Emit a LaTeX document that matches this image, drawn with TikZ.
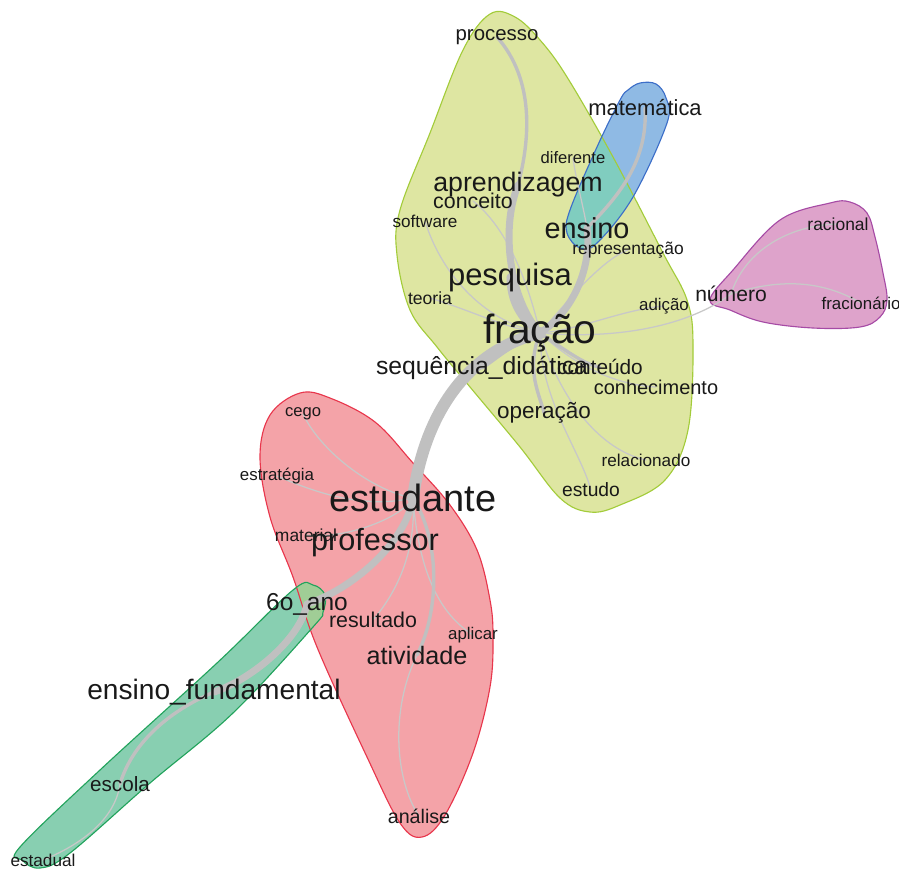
\documentclass[tikz,border=0pt]{standalone}
\usepackage{fontspec}
\setmainfont{Liberation Sans}
\pgfdeclarelayer{hull}
\pgfdeclarelayer{edge}
\pgfsetlayers{hull,edge,main}
\definecolor{yfill}{HTML}{DEE6A2}
\definecolor{yline}{HTML}{A3CC3A}
\definecolor{bfill}{HTML}{8FBAE4}
\definecolor{bline}{HTML}{3C6EC8}
\definecolor{ybfill}{HTML}{80CDBF}
\definecolor{mfill}{HTML}{DEA3CB}
\definecolor{mline}{HTML}{A64BA5}
\definecolor{rfill}{HTML}{F4A3A8}
\definecolor{rline}{HTML}{E8364C}
\definecolor{gfill}{HTML}{88CFB1}
\definecolor{gline}{HTML}{22A35C}
\definecolor{rgfill}{HTML}{A0CD96}
\definecolor{edgegray}{HTML}{C0C0C0}
\definecolor{thingray}{HTML}{C8C8C8}
% hull outlines
\newcommand\yhull{plot[smooth cycle, tension=0.6] coordinates {(490,14) (515,17) (540,40) (567,77) (613,157) (663,253) (687,300) (693,345) (688,430) (665,480) (620,505) (590,512) (560,498) (520,447) (470,387) (437,347) (410,310) (397,255) (400,210) (430,133) (463,50)}}
\newcommand\bhull{plot[smooth cycle, tension=0.6] coordinates {(640,83) (656,84) (666,98) (667,123) (633,197) (597,243) (580,248) (567,233) (570,210) (597,147) (620,100) (628,90)}}
\newcommand\mhull{plot[smooth cycle, tension=0.6] coordinates {(710,300) (733,270) (780,220) (830,203) (850,202) (867,213) (875,237) (883,273) (887,300) (880,317) (860,327) (813,328) (763,322) (730,310)}}
\newcommand\rhull{plot[smooth cycle, tension=0.6] coordinates {(300,393) (330,398) (375,422) (413,463) (450,505) (477,550) (490,600) (493,637) (490,687) (473,753) (445,815) (422,837) (400,823) (367,757) (317,647) (293,577) (270,517) (260,457) (270,415)}}
\newcommand\ghull{plot[smooth cycle, tension=0.6] coordinates {(313,585) (325,595) (323,612) (313,627) (233,713) (150,783) (70,853) (40,868) (22,860) (20,847) (100,770) (217,663) (293,590)}}
\begin{document}
\begin{tikzpicture}[x=0.025cm, y=-0.025cm,
    every node/.style={inner sep=0pt, text=black!90},
    word/.style={font=\fontsize{#1}{#1}\selectfont},
    e1/.style={draw=edgegray, line width=8.5pt, line cap=round},
    e2/.style={draw=edgegray, line width=5pt, line cap=round},
    e3/.style={draw=edgegray, line width=2.4pt, line cap=round},
    e4/.style={draw=thingray, line width=0.9pt, line cap=round},
    rim/.style={line width=0.8pt}]
    \useasboundingbox (0,0) rectangle (899,871);
    \begin{pgfonlayer}{hull}
        \fill[yfill] \yhull;
        \fill[bfill] \bhull;
        \fill[mfill] \mhull;
        \fill[rfill] \rhull;
        \fill[gfill] \ghull;
        \begin{scope}
            \clip \yhull;
            \fill[ybfill] \bhull;
        \end{scope}
        \begin{scope}
            \clip \rhull;
            \fill[rgfill] \ghull;
        \end{scope}
        \draw[yline, rim] \yhull;
        \draw[bline, rim] \bhull;
        \draw[mline, rim] \mhull;
        \draw[rline, rim] \rhull;
        \draw[gline, rim] \ghull;
    \end{pgfonlayer}
    % yellow group
    \node[word=29] (1-1) at (540,333) {fração};
    \node[word=22] (1-2) at (510,277) {pesquisa};
    \node[word=19] (1-3) at (518,185) {aprendizagem};
    \node[word=14.5] (1-5) at (497,37) {processo};
    \node[word=11.8] (1-6) at (573,158) {diferente};
    \node[word=15.2] (1-7) at (473,201) {conceito};
    \node[word=12.2] (1-8) at (425,221) {software};
    \node[word=12.4] (1-9) at (628,250) {representação};
    \node[word=12.5] (1-10) at (430,298) {teoria};
    \node[word=12] (1-11) at (664,306) {adição};
    \node[word=17.6] (1-12) at (482,368) {sequência\_didática};
    \node[word=14.8] (1-13) at (600,367) {conteúdo};
    \node[word=14.2] (1-14) at (656,387) {conhecimento};
    \node[word=16] (1-15) at (544,413) {operação};
    \node[word=12.2] (1-16) at (646,460) {relacionado};
    \node[word=13.7] (1-17) at (591,490) {estudo};
    % blue group
    \node[word=15.6] (2-1) at (645,108) {matemática};
    \node[word=20.5] (2-2) at (587,228) {ensino};
    % magenta group
    \node[word=15] (3-1) at (731,294) {número};
    \node[word=12.4] (3-2) at (838,224) {racional};
    \node[word=12] (3-3) at (861,303) {fracionário};
    % red group
    \node[word=27] (4-1) at (413,498) {estudante};
    \node[word=21.8] (4-2) at (375,543) {professor};
    \node[word=17.9] (4-3) at (417,655) {atividade};
    \node[word=15.2] (4-4) at (373,620) {resultado};
    \node[word=11.8] (4-5) at (303,414) {cego};
    \node[word=12] (4-6) at (277,476) {estratégia};
    \node[word=12.4] (4-7) at (306,535) {material};
    \node[word=12] (4-8) at (473,635) {aplicar};
    \node[word=14] (4-9) at (419,816) {análise};
    % green group
    \node[word=17.4] (5-1) at (307,604) {6o\_ano};
    \node[word=20] (5-2) at (214,692) {ensino\_fundamental};
    \node[word=14.7] (5-3) at (120,784) {escola};
    \node[word=12.2] (5-4) at (43,860) {estadual};
    \begin{pgfonlayer}{edge}
        \draw[e4] (1-7.center) .. controls (510,230) and (530,290) .. (1-1.center);
        \draw[e4] (1-8.center) .. controls (440,270) and (480,320) .. (1-1.center);
        \draw[e4] (1-10.center) .. controls (470,310) and (510,330) .. (1-1.center);
        \draw[e4] (1-9.center) .. controls (600,260) and (560,310) .. (1-1.center);
        \draw[e4] (1-11.center) .. controls (620,310) and (580,330) .. (1-1.center);
        \draw[e4] (3-1.center) .. controls (690,325) and (620,340) .. (1-1.center);
        \draw[e4] (3-1.center) .. controls (745,250) and (790,225) .. (3-2.center);
        \draw[e4] (3-1.center) .. controls (790,275) and (830,285) .. (3-3.center);
        \draw[e4] (1-1.center) .. controls (580,370) and (620,385) .. (1-14.center);
        \draw[e4] (1-1.center) .. controls (560,400) and (600,450) .. (1-16.center);
        \draw[e4] (1-1.center) .. controls (540,400) and (580,450) .. (1-17.center);
        \draw[e4] (2-2.center) .. controls (582,200) and (576,180) .. (1-6.center);
        \draw[e4] (4-1.center) .. controls (370,490) and (320,450) .. (4-5.center);
        \draw[e4] (4-1.center) .. controls (360,510) and (310,490) .. (4-6.center);
        \draw[e4] (4-1.center) .. controls (400,520) and (340,540) .. (4-7.center);
        \draw[e4] (4-1.center) .. controls (417,560) and (390,600) .. (4-4.center);
        \draw[e4] (4-1.center) .. controls (420,590) and (450,620) .. (4-8.center);
        \draw[e4] (4-3.center) .. controls (390,710) and (395,780) .. (4-9.center);
        \draw[e4] (5-3.center) .. controls (115,820) and (80,845) .. (5-4.center);
        \draw[e3] (1-5.center) .. controls (535,80) and (530,140) .. (1-3.center);
        \draw[e3] (2-2.center) .. controls (620,195) and (648,160) .. (2-1.center);
        \draw[e3] (1-1.center) .. controls (565,350) and (585,365) .. (1-13.center);
        \draw[e3] (1-1.center) .. controls (525,370) and (540,395) .. (1-15.center);
        \draw[e3] (1-1.center) .. controls (510,345) and (495,360) .. (1-12.center);
        \draw[e3] (4-1.center) .. controls (440,540) and (440,610) .. (4-3.center);
        \draw[e3] (5-2.center) .. controls (160,715) and (130,750) .. (5-3.center);
        \draw[e2] (1-1.center) .. controls (520,320) and (510,300) .. (1-2.center);
        \draw[e2] (1-1.center) .. controls (510,300) and (500,230) .. (1-3.center);
        \draw[e2] (1-1.center) .. controls (575,310) and (592,265) .. (2-2.center);
        \draw[e2] (4-1.center) .. controls (405,545) and (350,590) .. (5-1.center);
        \draw[e2] (5-1.center) .. controls (300,640) and (250,680) .. (5-2.center);
        \draw[e1] (1-1.center) .. controls (470,350) and (425,410) .. (4-1.center);
    \end{pgfonlayer}
\end{tikzpicture}
\end{document}
